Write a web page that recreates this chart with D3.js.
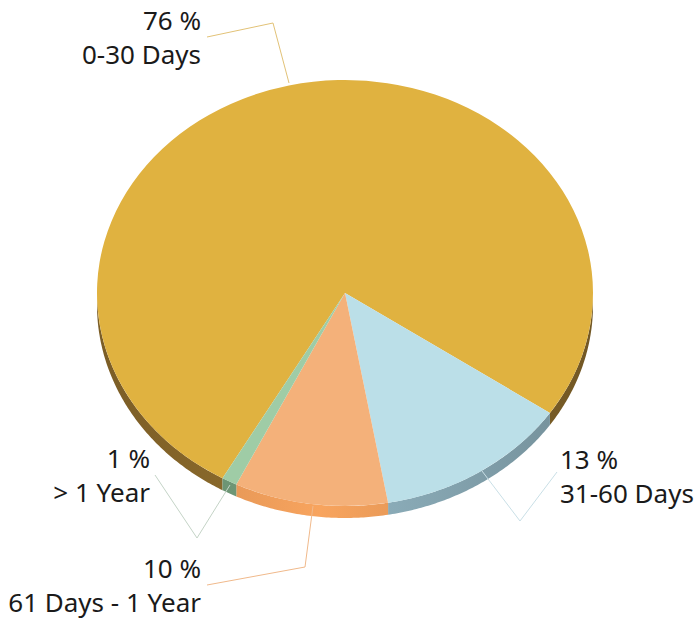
<!DOCTYPE html>
<html>
<head>
<meta charset="utf-8">
<script src="https://cdn.jsdelivr.net/npm/d3@7"></script>
<style>
  body { margin: 0; background: #fff; }
  text { font-family: "Noto Sans", sans-serif; fill: #1a1a1a; }
</style>
</head>
<body>
<svg id="pie" width="697" height="619"></svg>
<script>
const categories = ["0-30 Days", "31-60 Days", "61 Days - 1 Year", "> 1 Year"];
const values = [76.3, 12.7, 10.0, 1.0];
const topColors = ["#e0b240", "#bbdfe8", "#f4b17a", "#9fcca6"];
const sideColors = ["#86662a", "#86a6b1", "#e39656", "#6b9272"];
const lineColors = ["#e2c277", "#c9dfe6", "#f0b98b", "#c4d3c6"];

const cx = 345, cy = 293, rx = 248, ry = 213, depth = 12;
const startDeg = -150.4;

const svg = d3.select("#pie");
const fmt = d3.format(".0f");

const pie = d3.pie().sort(null).value(d => d)
  .startAngle(startDeg * Math.PI / 180)
  .endAngle(startDeg * Math.PI / 180 + 2 * Math.PI);
const arcs = pie(values);

// point on the tilted ellipse for a d3 angle (0 = 12 o'clock, clockwise)
const px = a => cx + rx * Math.sin(a);
const py = a => cy - ry * Math.cos(a);

// side walls: only the front (bottom) half is visible
const defs = svg.append("defs");
const sides = svg.append("g");
arcs.forEach((d, i) => {
  for (let k = -1; k <= 1; k++) {
    const lo = Math.max(d.startAngle, Math.PI / 2 + 2 * Math.PI * k);
    const hi = Math.min(d.endAngle, 3 * Math.PI / 2 + 2 * Math.PI * k);
    if (hi <= lo) continue;
    const angs = d3.range(lo, hi, 0.01).concat([hi]);
    const pts = angs.map(a => [px(a), py(a)])
      .concat(angs.slice().reverse().map(a => [px(a), py(a) + depth]));
    const gid = "sg" + i + "_" + (k + 1);
    const grad = defs.append("linearGradient")
      .attr("id", gid).attr("gradientUnits", "userSpaceOnUse")
      .attr("x1", cx - rx).attr("x2", cx + rx).attr("y1", 0).attr("y2", 0);
    const base = d3.color(sideColors[i]);
    grad.append("stop").attr("offset", "0%").attr("stop-color", base.darker(0.25));
    grad.append("stop").attr("offset", "45%").attr("stop-color", base.brighter(0.25));
    grad.append("stop").attr("offset", "100%").attr("stop-color", base.darker(0.45));
    sides.append("path")
      .attr("d", d3.line()(pts) + "Z")
      .attr("fill", "url(#" + gid + ")");
  }
});

// top face
const arc = d3.arc().innerRadius(0).outerRadius(rx);
svg.append("g")
  .attr("transform", `translate(${cx},${cy}) scale(1,${ry / rx})`)
  .selectAll("path")
  .data(arcs)
  .enter()
  .append("path")
  .attr("d", arc)
  .attr("fill", (d, i) => topColors[i]);

// leader lines and labels
const labels = [
  { i: 0, pts: [[207, 37], [273, 23], [289, 83]], x: 201, y: 30, anchor: "end" },
  { i: 1, pts: [[482, 471], [520, 521], [557, 472]], x: 560, y: 469, anchor: "start" },
  { i: 2, pts: [[313, 506], [305, 567], [207, 585]], x: 201, y: 578, anchor: "end" },
  { i: 3, pts: [[230, 485], [197, 538], [155, 475]], x: 150, y: 468, anchor: "end" }
];

labels.forEach(l => {
  svg.append("path")
    .attr("d", d3.line()(l.pts))
    .attr("fill", "none")
    .attr("stroke", lineColors[l.i])
    .attr("stroke-width", 1);
  const t = svg.append("text")
    .attr("text-anchor", l.anchor)
    .style("font-size", "26px");
  t.append("tspan").attr("x", l.x).attr("y", l.y).text(fmt(values[l.i]) + " %");
  t.append("tspan").attr("x", l.x).attr("y", l.y + 34).text(categories[l.i]);
});
</script>
</body>
</html>
